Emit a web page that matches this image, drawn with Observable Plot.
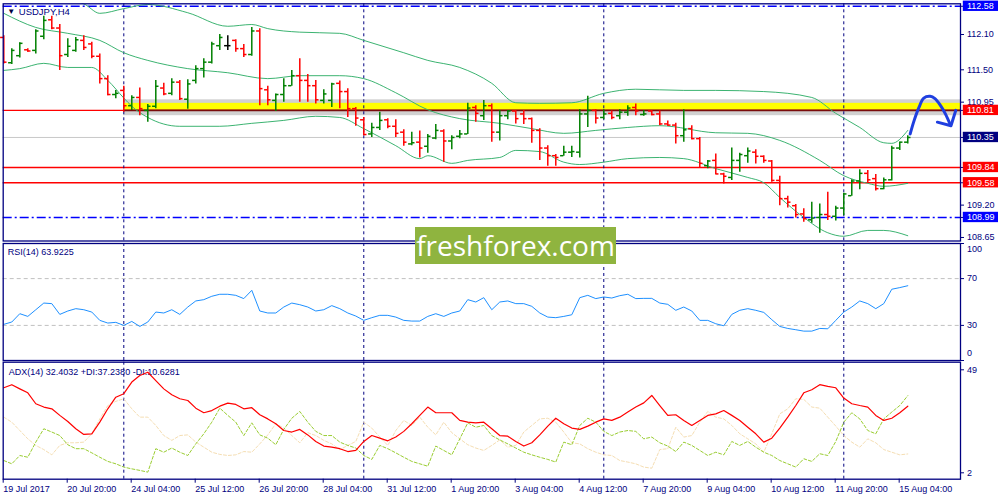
<!DOCTYPE html>
<html><head><meta charset="utf-8">
<script src="https://cdn.jsdelivr.net/npm/d3@7"></script>
<script src="https://cdn.jsdelivr.net/npm/@observablehq/plot@0.6"></script>
<style>
html,body{margin:0;padding:0;background:#fff;}
#chart{position:relative;width:1000px;height:500px;overflow:hidden;background:#fff;}
#chart svg{position:absolute;left:0;}
#wm{position:absolute;left:415px;top:227px;width:201px;height:37px;background:#8fb43f;color:#fff;font-family:'Open Sans',sans-serif;font-size:28px;line-height:36px;text-align:center;z-index:5;}
</style></head><body><div id="chart"><div id="wm">freshforex.com</div></div>
<script>
// ---------- DATA ----------
const open = [112.05,111.62,111.74,111.84,111.83,112.07,112.35,112.21,111.76,111.83,
112.00,111.94,111.73,111.35,111.08,111.15,110.89,111.03,110.81,110.88,
111.19,111.10,111.29,111.00,111.32,111.52,111.63,111.91,111.91,112.00,
111.86,111.76,112.16,111.16,110.98,111.08,111.23,111.40,111.32,111.23,
110.98,110.98,111.27,111.13,110.84,110.65,110.41,110.52,110.65,110.54,
110.44,110.24,110.27,110.20,110.34,110.46,110.29,110.37,110.41,110.86,
110.72,110.89,110.44,110.72,110.80,110.75,110.67,110.47,110.17,110.04,
110.04,110.10,110.10,110.75,110.81,110.69,110.76,110.72,110.78,110.86,
110.74,110.80,110.75,110.58,110.56,110.38,110.50,110.33,109.87,109.96,
109.73,109.67,109.96,110.04,110.10,110.03,109.95,109.62,109.31,109.19,
109.05,108.95,108.99,109.04,109.01,109.15,109.36,109.61,109.74,109.65,
109.48,109.63,110.17,110.27];
const high = [112.08,111.86,111.96,111.86,112.18,112.41,112.41,112.27,112.03,112.05,
112.08,111.97,111.77,111.40,111.15,111.22,111.06,111.19,110.91,111.32,
111.27,111.35,111.32,111.33,111.57,111.69,111.97,112.10,112.08,112.01,
111.93,112.22,112.20,111.22,111.09,111.35,111.49,111.69,111.42,111.32,
111.16,111.27,111.31,111.18,110.86,110.69,110.59,110.78,110.67,110.65,
110.48,110.44,110.46,110.40,110.57,110.48,110.38,110.47,110.93,110.89,
110.98,110.92,110.81,110.81,110.81,110.81,110.68,110.50,110.21,110.06,
110.20,110.20,110.82,111.05,110.82,110.82,110.80,110.82,110.89,110.92,
110.81,110.81,110.80,110.63,110.59,110.82,110.55,110.35,109.96,110.07,
109.74,110.17,110.08,110.17,110.14,110.04,109.96,109.69,109.35,109.21,
109.14,109.25,109.22,109.42,109.18,109.40,109.63,109.80,109.79,109.72,
109.66,110.20,110.27,110.38];
const low = [111.60,111.59,111.70,111.80,111.77,112.01,112.18,111.49,111.71,111.80,
111.83,111.69,111.26,111.06,111.01,110.78,110.81,110.72,110.61,110.84,
111.06,111.06,110.98,110.83,111.26,111.36,111.60,111.83,111.83,111.80,
111.71,111.73,110.89,110.89,110.79,110.95,111.22,110.95,110.95,110.92,
110.92,110.86,110.84,110.69,110.54,110.38,110.35,110.47,110.50,110.35,
110.20,110.21,110.00,110.08,110.31,109.93,110.14,110.33,110.40,110.61,
110.64,110.27,110.29,110.65,110.58,110.57,110.25,109.96,109.86,109.86,
110.03,110.01,110.00,110.52,110.58,110.65,110.65,110.65,110.71,110.72,
110.71,110.72,110.55,110.54,110.24,110.27,110.31,109.83,109.82,109.72,
109.56,109.62,109.76,109.91,109.90,109.91,109.59,109.19,109.15,108.98,
108.91,108.89,108.72,108.94,108.93,109.02,109.35,109.46,109.57,109.44,
109.46,109.61,110.13,110.24];
const close = [111.63,111.83,111.95,111.82,112.16,112.34,112.21,111.74,111.90,112.01,
111.88,111.73,111.35,111.08,111.10,110.89,111.03,110.84,110.88,111.22,
111.09,111.29,111.01,111.26,111.52,111.63,111.94,112.05,111.91,111.86,
111.76,112.16,111.18,110.99,111.08,111.23,111.40,111.32,111.23,110.99,
111.09,111.26,111.13,110.84,110.68,110.40,110.52,110.64,110.54,110.42,
110.27,110.26,110.17,110.37,110.47,110.29,110.35,110.41,110.85,110.76,
110.89,110.44,110.72,110.80,110.67,110.67,110.47,110.17,110.04,110.01,
110.10,110.11,110.75,110.81,110.68,110.75,110.69,110.78,110.85,110.80,
110.75,110.74,110.58,110.56,110.38,110.48,110.33,109.91,109.95,109.73,
109.69,109.96,110.06,110.12,110.03,109.96,109.62,109.31,109.25,109.04,
108.97,108.98,109.04,109.01,109.15,109.39,109.61,109.74,109.63,109.48,
109.63,110.17,110.27,110.35];

// Bollinger bands, sampled [bar, price]
const bbUpper = [[0,112.80],[5,112.74],[10,112.62],[12,112.46],[15,112.54],[18,112.61],[23,112.47],[28,112.24],[31,112.27],[33,112.20],[37,112.14],[42,112.12],[45,112.00],[50,111.79],[53,111.66],[57,111.54],[61,111.27],[64,110.94],[67,110.93],[71,110.94],[75,111.10],[79,111.17],[85,111.15],[89,111.15],[95,111.13],[101,111.03],[104,110.76],[107,110.52],[110,110.26],[111,110.25],[113,110.47]];
const bbMiddle = [[0,112.46],[4,112.22],[8,112.12],[12,112.00],[15,111.79],[18,111.66],[23,111.52],[28,111.45],[33,111.35],[37,111.40],[42,111.40],[45,111.35],[49,111.11],[53,110.82],[57,110.67],[62,110.59],[66,110.50],[70,110.42],[74,110.47],[78,110.52],[82,110.55],[89,110.43],[93,110.42],[97,110.30],[102,109.96],[105,109.70],[108,109.57],[110,109.52],[113,109.57]];
const bbLower = [[0,111.49],[2,111.52],[5,111.61],[8,111.54],[11,111.54],[13,111.32],[15,111.02],[16,110.88],[18,110.69],[22,110.54],[27,110.54],[31,110.59],[35,110.64],[39,110.71],[42,110.69],[45,110.50],[49,110.21],[52,109.99],[53,110.04],[56,109.91],[58,109.96],[62,110.01],[64,110.13],[67,110.11],[70,109.93],[72,109.89],[75,109.93],[78,109.99],[82,110.01],[85,109.99],[89,109.82],[93,109.67],[95,109.58],[97,109.33],[100,108.99],[103,108.73],[105,108.67],[108,108.77],[110,108.77],[113,108.68]];

const rsi = [30.9,32.9,40.0,37.7,43.4,49.1,48.6,39.4,42.3,44.3,
43.4,41.4,34.3,32.0,32.6,30.0,33.4,29.1,32.9,41.4,
40.6,43.4,39.4,45.7,50.9,52.0,54.9,56.6,56.6,55.7,
52.9,60.0,42.3,40.6,40.6,45.7,49.1,47.7,45.7,42.3,
43.4,46.9,44.3,40.6,38.0,34.3,36.6,38.6,38.6,37.1,
34.3,33.7,33.7,37.7,40.0,37.7,40.6,42.3,52.0,50.0,
53.7,43.4,50.0,50.9,48.6,48.6,46.3,40.6,37.1,36.6,
37.7,39.1,53.7,55.7,52.9,54.3,53.4,55.4,56.6,52.9,
53.1,53.1,49.1,48.0,42.9,45.7,42.3,34.3,34.3,31.4,
29.7,39.4,42.9,44.3,42.9,41.1,34.9,29.1,27.4,26.3,
25.1,25.1,27.4,27.1,34.3,41.4,45.7,50.9,48.6,44.3,
48.6,60.9,62.3,63.9];
const adx = [40.8,42.2,40.3,38.5,33.5,32.0,31.2,28.2,25.4,22.1,
19.5,19.8,25.1,31.2,36.5,38.1,43.4,46.4,47.9,44.1,
40.3,37.6,35.8,35.0,31.5,29.4,30.4,32.4,33.8,33.2,
31.2,31.7,28.5,26.6,24.4,21.3,20.6,21.8,19.3,16.3,
14.2,13.7,13.0,11.7,12.2,16.3,19.0,17.8,16.6,18.3,
20.9,24.4,28.2,32.0,29.4,29.4,29.4,25.9,25.1,24.8,
25.1,22.1,19.0,18.7,16.3,14.2,15.7,19.3,23.3,26.9,
24.4,22.4,21.8,23.3,25.1,26.6,25.9,27.4,29.7,32.0,
33.9,37.3,32.7,28.2,28.5,25.9,23.6,25.9,28.2,28.9,
30.4,28.2,25.9,22.8,19.8,16.0,17.8,22.4,27.4,32.7,
38.5,39.9,42.2,41.4,40.8,36.1,33.5,32.7,32.0,28.2,
25.9,26.9,29.4,32.4];
const plusDI = [7.6,6.1,9.9,9.1,16.0,22.1,20.6,19.0,14.8,13.0,
13.0,11.1,9.1,7.2,6.1,4.6,3.8,3.1,2.3,13.0,
11.4,13.3,11.4,9.9,15.2,19.8,25.1,31.5,28.2,25.1,
19.0,24.8,19.3,17.8,14.8,21.8,26.9,30.0,25.1,20.9,
19.0,19.0,16.0,14.5,13.3,9.9,8.1,14.5,13.0,11.1,
9.1,7.2,6.1,5.0,14.2,12.2,10.2,17.5,24.8,22.8,
23.6,19.0,17.0,15.2,13.3,11.4,10.2,9.1,8.1,6.9,
16.0,14.8,23.6,26.9,25.1,20.9,19.0,20.6,21.3,20.9,
17.5,18.3,15.7,14.2,11.7,16.0,14.5,12.2,9.9,11.4,
10.2,16.3,14.5,16.3,13.7,11.4,9.9,7.6,6.1,4.6,
8.4,7.2,10.7,9.9,16.3,25.1,29.4,26.6,21.3,19.8,
26.6,29.7,32.7,37.2];
const minusDI = [27.4,25.1,21.3,17.5,14.5,12.6,10.2,14.5,15.7,15.7,
16.0,19.8,26.6,32.7,34.6,35.8,31.2,27.4,27.4,23.6,
19.0,16.8,19.0,19.3,16.0,13.7,11.4,10.4,9.9,10.2,
11.7,11.4,15.2,19.3,24.4,22.4,19.0,15.7,20.3,19.0,
16.8,15.2,12.6,14.5,16.3,25.1,22.4,18.3,14.5,21.3,
25.9,23.6,27.4,22.8,19.3,25.1,20.3,17.5,14.8,13.3,
12.2,14.5,17.0,13.7,14.5,20.6,23.6,26.6,26.9,25.1,
20.6,15.7,15.2,13.0,11.4,10.2,9.9,7.6,6.9,6.1,
4.6,4.1,12.6,13.0,22.8,18.3,19.0,25.1,30.0,27.4,
26.6,23.6,19.8,17.5,15.2,11.4,19.8,28.9,31.2,35.8,
35.5,32.0,31.5,27.4,23.3,19.0,16.0,13.7,17.5,15.7,
12.6,11.4,10.2,10.6];

const xLabels = ["19 Jul 2017","20 Jul 20:00","24 Jul 04:00","25 Jul 12:00","26 Jul 20:00","28 Jul 04:00","31 Jul 12:00","1 Aug 20:00","3 Aug 04:00","4 Aug 12:00","7 Aug 20:00","9 Aug 04:00","10 Aug 12:00","11 Aug 20:00","15 Aug 04:00"];
const weekStarts = [15,45,75,105];
const priceTicks = [112.10,111.50,110.95,109.20,108.65];
const levelPrices = [112.58,110.81,110.35,109.84,109.58,108.99];
const levelKinds = ["target","resistance","last","support","support","target"];
const zone = {from:15, low:110.81, high:110.93};
const rsiTicks = [100,70,30,0];
const rsiLevels = [70,30];
const adxTicks = [49,2];
const arrowPath = [[113.3,110.41],[113.8,110.64],[114.4,110.86],[115.0,111.02],[115.8,111.05],[116.4,111.01],[117.1,110.89],[117.7,110.75],[118.3,110.57]];
const arrowHead = [[116.7,110.61],[118.4,110.55],[119.0,110.81]];

// ---------- DRAW ----------
const NAVY = "#000080";
const X0 = -0.075, X1 = 119.59;
const PX = (X1 - X0) / (960 - 2.7);
const FONT = {fontFamily:"'Liberation Sans', Arial, sans-serif", fontSize:"9px", background:"transparent", overflow:"visible"};
const bars = open.map((o,i)=>({i, open:o, high:high[i], low:low[i], close:close[i]}));
const barColor = d => d.close > d.open ? "#008000" : d.close < d.open ? "#ff0000" : "#000000";
const levels = levelPrices.map((p,k)=>({p, kind:levelKinds[k]}));
const kindColor = {target:"#0000ff", resistance:"#ff0000", support:"#ff0000", last:NAVY};
const TK = 0.4;
const series = arr => arr.map((v,i)=>[i,v]);

function rightAxis(values, pos, fmt) {
  return [
    Plot.ruleY(values, {y:d=>d, x1:()=>X1, x2:()=>X1+4*PX, stroke:NAVY}),
    Plot.text(values, {y:d=>pos(d), x:()=>X1+6.4*PX, text:fmt, textAnchor:"start", fill:NAVY, fontSize:9})
  ];
}
const sepMark = () => Plot.ruleX(weekStarts, {x:d=>d, stroke:NAVY, strokeWidth:1, strokeDasharray:"3,3"});

const main = Plot.plot({
  width:1000, height:242, marginTop:3.3, marginBottom:1.5, marginLeft:2.7, marginRight:40,
  x:{domain:[X0,X1], axis:null}, y:{domain:[108.59,112.622], axis:null},
  color:{type:"identity"}, style:FONT,
  marks:[
    Plot.rect([zone], {x1:"from", x2:()=>X1, y1:d=>d.low-0.09, y2:d=>d.high+0.06, fill:"#666", fillOpacity:0.3, ariaLabel:"shadow"}),
    Plot.rect([zone], {x1:"from", x2:()=>X1, y1:"low", y2:"high", fill:"#ffff00"}),
    Plot.ruleY(levels.filter(d=>d.kind==="last"), {y:"p", stroke:"#c8c8c8", strokeWidth:1}),
    Plot.ruleY(levels.filter(d=>d.kind==="resistance"||d.kind==="support"), {y:"p", stroke:"#ff0000", strokeWidth:1.4}),
    Plot.ruleY(levels.filter(d=>d.kind==="target"), {y:"p", stroke:"#0000ff", strokeWidth:1.4, strokeDasharray:"9,3,2,3"}),
    Plot.ruleY([zone], {y:"low", x1:"from", x2:()=>X1, stroke:"#7a0c0c", strokeWidth:1.6}),
    sepMark(),
    ...[bbUpper, bbMiddle, bbLower].map(b => Plot.line(b, {x:d=>d[0], y:d=>d[1], stroke:"#3cb371", strokeWidth:1, curve:"monotone-x", clip:true})),
    Plot.ruleX(bars, {x:"i", y1:"low", y2:"high", stroke:barColor, strokeWidth:1.5}),
    Plot.ruleY(bars, {x1:d=>d.i-TK, x2:"i", y:"open", stroke:barColor, strokeWidth:1.5}),
    Plot.ruleY(bars, {x1:"i", x2:d=>d.i+TK, y:"close", stroke:barColor, strokeWidth:1.5}),
    Plot.line(arrowPath, {x:d=>d[0], y:d=>d[1], stroke:"#6b7aa8", strokeWidth:5, strokeOpacity:0.4, curve:"catmull-rom", ariaLabel:"ashadow"}),
    Plot.line(arrowPath, {x:d=>d[0], y:d=>d[1], stroke:"#1f3fe0", strokeWidth:3, curve:"catmull-rom", strokeLinecap:"round"}),
    Plot.line(arrowHead, {x:d=>d[0], y:d=>d[1], stroke:"#1f3fe0", strokeWidth:3, strokeLinecap:"round", strokeLinejoin:"round"}),
    Plot.frame({stroke:NAVY, strokeWidth:1.3}),
    ...rightAxis(priceTicks.concat(levelPrices), d=>d, d=>d.toFixed(2)),
    Plot.rect(levels, {x1:()=>X1+0.35, x2:()=>X1+4.75, y1:d=>d.p-0.088, y2:d=>d.p+0.088, fill:d=>kindColor[d.kind]}),
    Plot.text(levels, {y:"p", x:()=>X1+6.4*PX, text:d=>d.p.toFixed(2), textAnchor:"start", fill:"#ffffff", fontSize:9}),
    Plot.text(["\u25BC"], {frameAnchor:"top-left", dx:4, dy:5, lineAnchor:"top", textAnchor:"start", fill:"#000040", fontSize:8}),
    Plot.text(["USDJPY,H4"], {frameAnchor:"top-left", dx:15.6, dy:4, lineAnchor:"top", textAnchor:"start", fill:NAVY, fontSize:9.5})
  ]
});

const rsiPlot = Plot.plot({
  width:1000, height:119, marginTop:1, marginBottom:1, marginLeft:2.7, marginRight:40,
  x:{domain:[X0,X1], axis:null}, y:{domain:[0,100], axis:null}, style:FONT,
  marks:[
    Plot.ruleY(rsiLevels, {y:d=>d, stroke:"#c0c0c0", strokeDasharray:"4,3"}),
    sepMark(),
    Plot.line(series(rsi), {x:d=>d[0], y:d=>d[1], stroke:"#1e90ff", strokeWidth:1}),
    Plot.frame({stroke:NAVY, strokeWidth:1.3}),
    ...rightAxis(rsiTicks, d=>Math.max(6, Math.min(95, d)), d=>String(d)),
    Plot.text(["RSI(14) 63.9225"], {frameAnchor:"top-left", dx:4.6, dy:5, lineAnchor:"top", textAnchor:"start", fill:NAVY, fontSize:9})
  ]
});

const YA0 = -0.92, YA1 = 52.47;
const PY = (YA1 - YA0) / 117;
const tickBars = xLabels.map((_,k)=>k*8);
const adxPlot = Plot.plot({
  width:1000, height:139, marginTop:0.7, marginBottom:21.3, marginLeft:2.7, marginRight:40,
  x:{domain:[X0,X1], axis:null}, y:{domain:[YA0,YA1], axis:null}, style:FONT,
  marks:[
    Plot.text(["ADX(14) 32.4032 +DI:37.2380 -DI:10.6281"], {frameAnchor:"top-left", dx:5.6, dy:6, lineAnchor:"top", textAnchor:"start", fill:NAVY, fontSize:9}),
    sepMark(),
    Plot.line(series(minusDI), {x:d=>d[0], y:d=>d[1], stroke:"#f5deb3", strokeWidth:1, strokeDasharray:"3,2"}),
    Plot.line(series(plusDI), {x:d=>d[0], y:d=>d[1], stroke:"#9acd32", strokeWidth:1, strokeDasharray:"3,2"}),
    Plot.line(series(adx), {x:d=>d[0], y:d=>d[1], stroke:"#ff0000", strokeWidth:1.2}),
    Plot.frame({stroke:NAVY, strokeWidth:1.3}),
    ...rightAxis(adxTicks, d=>d, d=>String(d)),
    Plot.ruleX(tickBars, {x:d=>d-0.075, y1:()=>YA0, y2:()=>YA0-4*PY, stroke:NAVY}),
    Plot.text(tickBars, {x:d=>d, frameAnchor:"bottom", dy:6, dx:-0.5, lineAnchor:"top", textAnchor:"start", text:(d,k)=>xLabels[k], fill:NAVY, fontSize:9})
  ]
});

const chart = document.getElementById("chart");
[[main,0],[rsiPlot,242],[adxPlot,361]].forEach(([svg,top])=>{ svg.style.top = top+"px"; chart.appendChild(svg); });
main.querySelectorAll('[aria-label="shadow"]').forEach(g=>g.style.filter="blur(3px)");
main.querySelectorAll('[aria-label="ashadow"]').forEach(g=>g.style.filter="blur(1.5px)");
</script></body></html>
